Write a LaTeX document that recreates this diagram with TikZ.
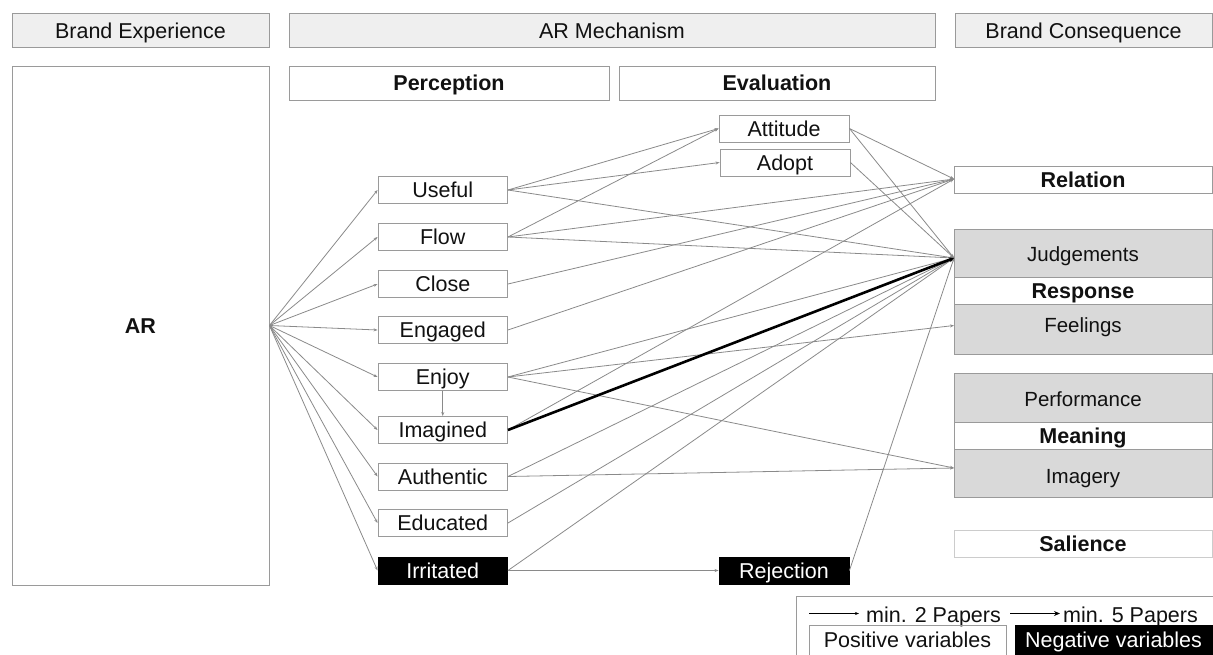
\documentclass[tikz,border=0pt]{standalone}
\usepackage{fontspec}
\setmainfont{Liberation Sans}
\usetikzlibrary{arrows.meta}
\definecolor{bordergray}{HTML}{9A9A9A}
\definecolor{linegray}{HTML}{8A8A8A}
\definecolor{hdrfill}{HTML}{EFEFEF}
\definecolor{grpfill}{HTML}{D9D9D9}
\definecolor{txt}{HTML}{111111}
\begin{document}
\begin{tikzpicture}[x=1pt,y=-1pt,
  box/.style={draw=bordergray, line width=0.9pt, inner sep=0pt, text=txt,
    text height=15.4pt, text depth=0pt,
    font=\fontsize{21.5}{24}\selectfont},
  hdr/.style={box, fill=hdrfill, minimum height=34pt},
  pnode/.style={box, fill=white, minimum width=129.5pt, minimum height=27pt},
  negnode/.style={pnode, fill=black, draw=black, text=white},
  grp/.style={box, fill=grpfill, minimum width=258pt},
  band/.style={box, fill=white, minimum width=258pt, minimum height=27pt, font=\fontsize{21.5}{24}\selectfont\bfseries},
  inlabel/.style={inner sep=0pt, text=txt, text height=14.7pt, text depth=0pt, font=\fontsize{20.5}{24}\selectfont},
  legtext/.style={anchor=west, inner sep=0pt, text=txt, text height=15.4pt, text depth=0pt, font=\fontsize{21.5}{24}\selectfont},
  conn/.style={draw=linegray, line width=0.8pt, -{Stealth[length=4pt,width=3pt]}},
  thickconn/.style={draw=black, line width=2.6pt, -{Stealth[length=5pt,width=5pt]}},
  legthin/.style={draw=black, line width=0.6pt, -{Stealth[length=4pt,width=3pt]}},
  legthick/.style={draw=black, line width=1.8pt, -{Stealth[length=6pt,width=5pt]}}
]
\useasboundingbox (0,0) rectangle (1213,654);
\clip (0,0) rectangle (1213,654);

% headers
\node[hdr, minimum width=257pt] (be) at (140.5,30.5) {Brand Experience};
\node[hdr, minimum width=646pt] (arm) at (612,30.5) {AR Mechanism};
\node[hdr, minimum width=257pt] (bc) at (1083.5,30.5) {Brand Consequence};

% AR box
\node[box, minimum width=257pt, minimum height=519pt, font=\fontsize{21.5}{24}\selectfont\bfseries] (ar) at (140.5,325.5) {AR};

% sub headers
\node[box, minimum width=320pt, minimum height=34pt, font=\fontsize{21.5}{24}\selectfont\bfseries] (perc) at (449,83) {Perception};
\node[box, minimum width=316pt, minimum height=34pt, font=\fontsize{21.5}{24}\selectfont\bfseries] (eval) at (777,83) {Evaluation};

% perception nodes
\node[pnode] (useful) at (442.75,190) {Useful};
\node[pnode] (flow) at (442.75,237) {Flow};
\node[pnode] (close) at (442.75,284) {Close};
\node[pnode] (engaged) at (442.75,330) {Engaged};
\node[pnode] (enjoy) at (442.75,377) {Enjoy};
\node[pnode] (imagined) at (442.75,430) {Imagined};
\node[pnode] (authentic) at (442.75,476.5) {Authentic};
\node[pnode] (educated) at (442.75,523) {Educated};
\node[negnode] (irritated) at (442.75,570.5) {Irritated};

% evaluation nodes
\node[pnode, minimum width=130pt] (attitude) at (784,128.5) {Attitude};
\node[pnode, minimum width=130pt] (adopt) at (785,162.5) {Adopt};
\node[negnode, minimum width=130pt] (rejection) at (784,570.5) {Rejection};

% consequence boxes
\node[band] (relation) at (1083,179.5) {Relation};
\node[grp, minimum height=125pt] (respgrp) at (1083,291.5) {};
\node[band] (response) at (1083,290.5) {Response};
\node[inlabel] (judg) at (1083,254) {Judgements};
\node[inlabel] (feel) at (1083,325.5) {Feelings};
\node[grp, minimum height=124pt] (meangrp) at (1083,435) {};
\node[band] (meaning) at (1083,435.5) {Meaning};
\node[inlabel] (perf) at (1083,399.5) {Performance};
\node[inlabel] (imag) at (1083,476) {Imagery};
\node[band, draw=bordergray!50] (salience) at (1083,543.5) {Salience};

% convergence points
\coordinate (rel) at (954,179);
\coordinate (jud) at (954,258);
\coordinate (fee) at (954,325.5);
\coordinate (ima) at (954,468);

% AR to perception
\foreach \n in {useful,flow,close,engaged,enjoy,imagined,authentic,educated,irritated}
  \draw[conn] (ar.east) -- (\n.west);

\draw[conn] (enjoy.south) -- (imagined.north);

\draw[conn] (useful.east) -- (attitude.west);
\draw[conn] (useful.east) -- (adopt.west);
\draw[conn] (useful.east) -- (jud);
\draw[conn] (flow.east) -- (attitude.west);
\draw[conn] (flow.east) -- (rel);
\draw[conn] (flow.east) -- (jud);
\draw[conn] (close.east) -- (rel);
\draw[conn] (engaged.east) -- (rel);
\draw[conn] (enjoy.east) -- (jud);
\draw[conn] (enjoy.east) -- (fee);
\draw[conn] (enjoy.east) -- (ima);
\draw[conn] (imagined.east) -- (rel);
\draw[conn] (authentic.east) -- (jud);
\draw[conn] (authentic.east) -- (ima);
\draw[conn] (educated.east) -- (jud);
\draw[conn] (irritated.east) -- (jud);
\draw[conn] (irritated.east) -- (rejection.west);
\draw[conn] (attitude.east) -- (rel);
\draw[conn] (attitude.east) -- (jud);
\draw[conn] (adopt.east) -- (jud);
\draw[conn] (rejection.east) -- (jud);
\draw[thickconn] (imagined.east) -- (jud);

% legend
\node[draw=bordergray, line width=0.9pt, minimum width=418pt, minimum height=70pt, inner sep=0pt] (legend) at (1005,631) {};
\coordinate (la) at (809,613.5);
\coordinate (lb) at (859,613.5);
\coordinate (lc) at (1010,613.5);
\coordinate (ld) at (1060,613.5);
\draw[legthin] (la) -- (lb);
\draw[legthick] (lc) -- (ld);
\node[legtext] (l2) at (866,614.5) {min. 2 Papers};
\node[legtext] (l5) at (1063,614.5) {min. 5 Papers};
\node[box, minimum width=197pt, minimum height=30pt] (pos) at (907.5,640) {Positive variables};
\node[box, fill=black, draw=black, text=white, minimum width=197pt, minimum height=30pt] (neg) at (1113.5,640) {Negative variables};
\end{tikzpicture}
\end{document}
